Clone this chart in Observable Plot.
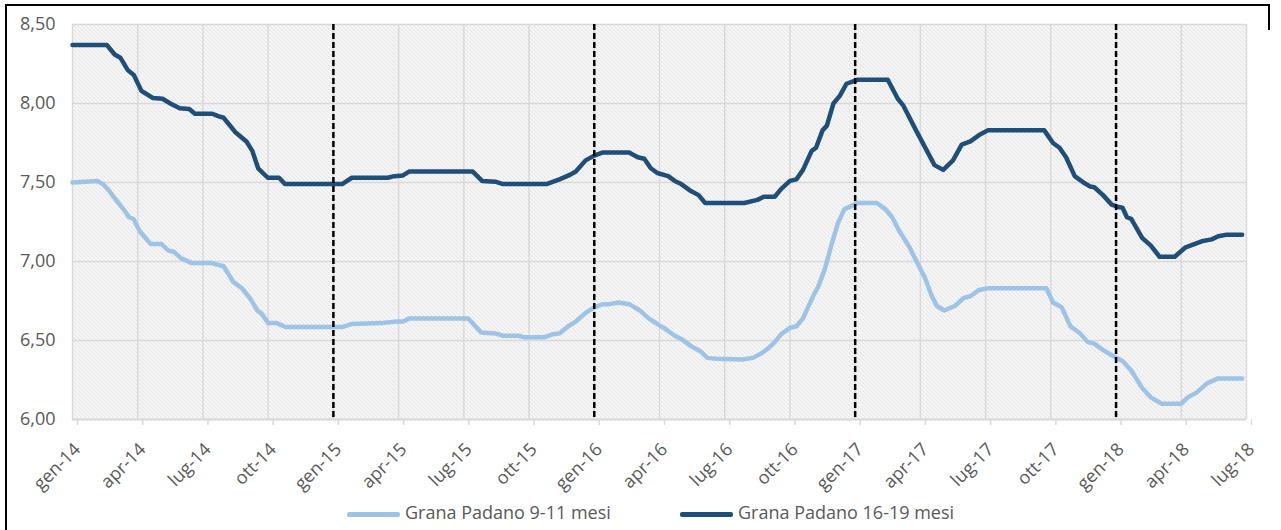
<!DOCTYPE html>
<html>
<head>
<meta charset="utf-8">
<script src="https://cdn.jsdelivr.net/npm/d3@7"></script>
<script src="https://cdn.jsdelivr.net/npm/@observablehq/plot@0.6"></script>
<style>
  html, body { margin: 0; padding: 0; background: #fff; overflow: hidden; }
  #wrap { position: relative; width: 1281px; height: 530px; overflow: hidden; font-family: "Open Sans", sans-serif; }
  #title { position: absolute; right: 168px; top: -20px; font: bold 18px "Liberation Sans", Arial, sans-serif; white-space: nowrap; color: #000; }
  #box { position: absolute; left: 5px; top: 4px; width: 1264px; height: 600px; border-left: 2px solid #000; border-top: 2px solid #000; box-sizing: border-box; }
  #rb { position: absolute; left: 1268px; top: 4px; width: 2px; height: 26px; background: #000; }
  #chart { position: absolute; left: 0; top: 0; }
  .sw { position: absolute; top: 512px; width: 53px; height: 4.5px; border-radius: 2px; }
  .lt { position: absolute; top: 500px; font-size: 18px; color: #595959; white-space: nowrap; }
</style>
</head>
<body>
<div id="wrap">
  <div id="title">Prezzi all'ingrosso del Grana Padano 9-11 mesi e 16-19 mesi alla Borsa Merci di Milano (€/kg)</div>
  <div id="box"></div>
  <div id="rb"></div>
  <div id="chart"></div>
  <div id="legend"></div>
</div>
<script>
// Series names and colours
const seriesNames = ["Grana Padano 9-11 mesi", "Grana Padano 16-19 mesi"];
const seriesColors = ["#9dc3e6", "#1f4e79"];

// X: months since January 2014; tick labels each quarter
const tickMonths = [0, 3, 6, 9, 12, 15, 18, 21, 24, 27, 30, 33, 36, 39, 42, 45, 48, 51, 54];
const tickLabels = ["gen-14","apr-14","lug-14","ott-14","gen-15","apr-15","lug-15","ott-15","gen-16","apr-16","lug-16","ott-16","gen-17","apr-17","lug-17","ott-17","gen-18","apr-18","lug-18"];
const yearMarks = [12, 24, 36, 48];
const yTicks = [6, 6.5, 7, 7.5, 8, 8.5];
const yTickLabels = ["6,00", "6,50", "7,00", "7,50", "8,00", "8,50"];

// Grana Padano 9-11 mesi  [month, €/kg]
const grana911 = [
  [0,7.50],[1.14,7.51],[1.4,7.49],[1.67,7.45],[2.0,7.39],[2.4,7.32],[2.6,7.28],[2.8,7.27],[3.1,7.19],[3.35,7.15],
  [3.6,7.11],[4.1,7.11],[4.4,7.07],[4.67,7.06],[5.0,7.02],[5.5,6.99],[6.4,6.99],[6.95,6.97],[7.4,6.87],[7.8,6.83],
  [8.2,6.76],[8.5,6.69],[8.7,6.67],[9.0,6.61],[9.4,6.61],[9.8,6.585],[12.4,6.585],[12.85,6.605],[14.2,6.61],[14.9,6.62],
  [15.2,6.62],[15.5,6.64],[18.2,6.64],[18.6,6.58],[18.8,6.55],[19.45,6.545],[19.8,6.53],[20.5,6.53],[20.8,6.52],[21.7,6.52],
  [22.1,6.54],[22.4,6.545],[22.8,6.59],[23.15,6.62],[23.6,6.675],[24.0,6.71],[24.4,6.73],[24.7,6.73],[25.1,6.74],[25.6,6.73],
  [26.1,6.69],[26.5,6.64],[27.0,6.595],[27.2,6.58],[27.7,6.53],[28.0,6.51],[28.5,6.46],[28.9,6.43],[29.2,6.39],[29.6,6.385],
  [30.8,6.38],[31.3,6.39],[31.7,6.42],[32.0,6.45],[32.3,6.49],[32.6,6.54],[33.0,6.58],[33.3,6.59],[33.6,6.64],[34.1,6.79],
  [34.3,6.84],[34.6,6.95],[34.9,7.10],[35.2,7.24],[35.5,7.33],[36.1,7.37],[37.0,7.37],[37.4,7.33],[37.7,7.28],[38.0,7.20],
  [38.5,7.09],[38.9,6.98],[39.2,6.90],[39.5,6.79],[39.75,6.72],[40.1,6.69],[40.6,6.72],[41.0,6.77],[41.3,6.78],[41.7,6.82],
  [42.1,6.83],[44.8,6.83],[45.1,6.74],[45.5,6.71],[45.9,6.59],[46.3,6.55],[46.7,6.49],[47.0,6.48],[47.4,6.44],[48.0,6.39],
  [48.3,6.37],[48.7,6.31],[49.2,6.20],[49.6,6.14],[50.1,6.10],[51.0,6.10],[51.3,6.14],[51.7,6.17],[52.2,6.23],[52.7,6.26],
  [53.8,6.26]
];

// Grana Padano 16-19 mesi  [month, €/kg]
const grana1619 = [
  [0,8.37],[1.58,8.37],[1.94,8.31],[2.2,8.29],[2.55,8.21],[2.82,8.18],[3.17,8.08],[3.7,8.035],[4.14,8.03],[4.5,8.00],
  [4.93,7.97],[5.37,7.965],[5.63,7.935],[6.43,7.935],[6.7,7.92],[6.95,7.91],[7.48,7.82],[8.0,7.76],[8.27,7.70],[8.54,7.59],
  [8.98,7.53],[9.5,7.53],[9.77,7.49],[12.4,7.49],[12.85,7.53],[14.5,7.53],[14.8,7.54],[15.2,7.545],[15.5,7.57],[18.4,7.57],
  [18.84,7.51],[19.45,7.505],[19.8,7.49],[21.8,7.49],[22.4,7.52],[22.9,7.55],[23.15,7.57],[23.6,7.64],[24.0,7.67],[24.4,7.69],
  [25.6,7.69],[26.0,7.66],[26.3,7.65],[26.6,7.59],[26.9,7.56],[27.4,7.54],[27.7,7.51],[28.0,7.49],[28.4,7.45],[28.8,7.42],
  [29.1,7.37],[30.9,7.37],[31.5,7.39],[31.8,7.41],[32.3,7.41],[32.6,7.46],[33.0,7.51],[33.3,7.52],[33.6,7.58],[34.0,7.70],
  [34.2,7.72],[34.5,7.83],[34.7,7.86],[35.0,8.00],[35.3,8.05],[35.6,8.125],[36.1,8.15],[37.5,8.15],[37.96,8.03],[38.2,7.99],
  [38.8,7.83],[39.65,7.61],[40.05,7.58],[40.5,7.64],[40.9,7.74],[41.3,7.76],[41.7,7.80],[42.1,7.83],[44.7,7.83],[45.1,7.75],
  [45.4,7.72],[45.7,7.66],[46.1,7.54],[46.5,7.50],[46.8,7.475],[47.0,7.47],[47.4,7.42],[47.8,7.36],[48.1,7.345],[48.3,7.34],
  [48.5,7.28],[48.7,7.27],[49.2,7.15],[49.6,7.10],[50.0,7.03],[50.7,7.03],[51.2,7.09],[51.6,7.11],[52.0,7.13],[52.4,7.14],
  [52.7,7.16],[53.1,7.17],[53.8,7.17]
];

const grid = "#d9d9d9";
const chart = Plot.plot({
  width: 1281,
  height: 495,
  marginLeft: 72,
  marginRight: 35,
  marginTop: 24,
  marginBottom: 76,
  style: { fontFamily: "Open Sans", fontSize: "18px", color: "#595959", background: "transparent", overflow: "visible" },
  x: { domain: [0, 54] },
  y: { domain: [6, 8.5] },
  marks: [
    Plot.frame({ fill: "#fff", stroke: null }),
    Plot.gridX(tickMonths, { stroke: grid, strokeOpacity: 1, strokeWidth: 1.5 }),
    Plot.gridY(yTicks, { stroke: grid, strokeOpacity: 1, strokeWidth: 1.5 }),
    Plot.axisY(yTicks, { tickSize: 0, tickPadding: 17, tickFormat: (d, i) => yTickLabels[i], fontSize: 18, fill: "#595959", label: null }),
    Plot.axisX(tickMonths, { tickSize: 6, tickPadding: 21, tickRotate: -45, dx: 5, tickFormat: (d, i) => tickLabels[i], fontSize: 18, fill: "#595959", stroke: grid, strokeWidth: 1.5, label: null }),
    Plot.ruleY([6], { stroke: grid, strokeWidth: 2 }),
    Plot.line(grana911, { x: d => d[0], y: d => d[1], stroke: seriesColors[0], strokeWidth: 4.5, strokeLinejoin: "round", strokeLinecap: "round" }),
    Plot.line(grana1619, { x: d => d[0], y: d => d[1], stroke: seriesColors[1], strokeWidth: 4.5, strokeLinejoin: "round", strokeLinecap: "round" }),
    Plot.ruleX(yearMarks, { stroke: "#000", strokeWidth: 2.5, strokeDasharray: "6,3" })
  ]
});

// diagonal hatch background for the plot area (pixel-aligned 4px tile)
const svg = d3.select(chart);
const defs = svg.insert("defs", ":first-child");
const pat = defs.append("pattern").attr("id", "hatch").attr("patternUnits", "userSpaceOnUse")
  .attr("x", 0).attr("y", 0).attr("width", 4).attr("height", 4);
pat.append("rect").attr("width", 4).attr("height", 4).attr("fill", "#fff");
pat.append("path").attr("d", "M0,0L4,4M-1,3L1,5M3,-1L5,1")
  .attr("stroke", "#dadada").attr("stroke-width", 1.1).attr("fill", "none");
svg.select('[aria-label="frame"]').selectAll("rect").attr("fill", "url(#hatch)");
svg.select('[aria-label="frame"]').attr("fill", "url(#hatch)");

document.getElementById("chart").appendChild(chart);

// legend
const legend = document.getElementById("legend");
const swX = [347, 680];
seriesNames.forEach((name, i) => {
  const sw = document.createElement("div");
  sw.className = "sw";
  sw.style.left = swX[i] + "px";
  sw.style.background = seriesColors[i];
  legend.appendChild(sw);
  const t = document.createElement("div");
  t.className = "lt";
  t.style.left = (swX[i] + 58) + "px";
  t.textContent = name;
  legend.appendChild(t);
});
</script>
</body>
</html>
